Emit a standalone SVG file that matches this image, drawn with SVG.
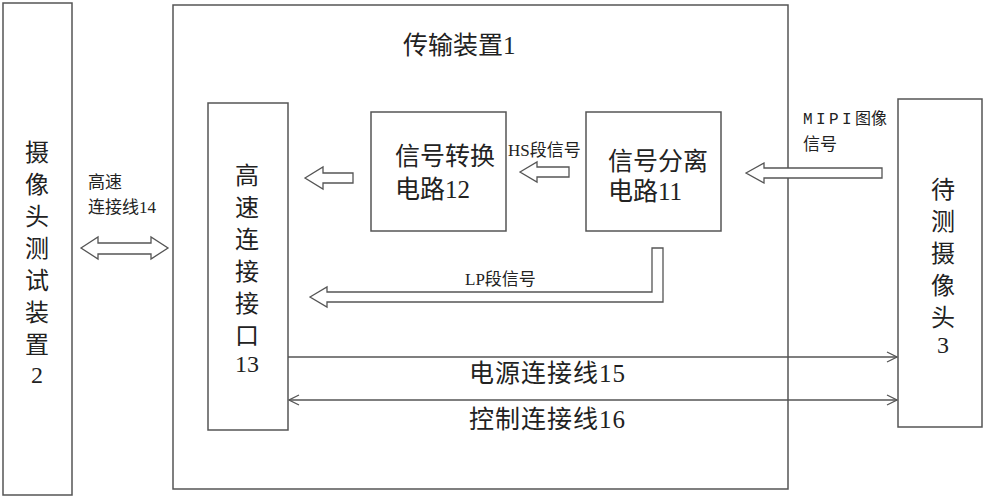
<svg xmlns="http://www.w3.org/2000/svg" width="984" height="500" viewBox="0 0 984 500">
<defs>
<style>
.box{fill:#fff;stroke:#555;stroke-width:1.5}
.blk{fill:#fff;stroke:#555;stroke-width:1.3}
.ln{fill:none;stroke:#555;stroke-width:1.3}
text{font-family:"Liberation Serif","Noto Sans CJK SC",serif;fill:#222}
.v{font-size:24px;text-anchor:middle}
.m{font-size:25px}
.s{font-size:17px}
</style>
<marker id="ah" viewBox="0 0 12 12" refX="11" refY="6" markerWidth="12" markerHeight="12" markerUnits="userSpaceOnUse" orient="auto-start-reverse">
<path d="M1,1 L11,6 L1,11" fill="none" stroke="#555" stroke-width="1.3"/>
</marker>
</defs>
<rect width="984" height="500" fill="#fff"/>

<g id="tester">
<rect class="box" x="3" y="3" width="69" height="492"/>
<text class="v"><tspan x="37" y="161">摄</tspan><tspan x="37" y="193">像</tspan><tspan x="37" y="225">头</tspan><tspan x="37" y="257">测</tspan><tspan x="37" y="289">试</tspan><tspan x="37" y="321">装</tspan><tspan x="37" y="353">置</tspan><tspan x="37" y="383">2</tspan></text>
</g>

<g id="transfer">
<rect class="box" x="173" y="5" width="615" height="484"/>
<text class="m" x="403" y="54">传输装置1</text>
</g>

<g id="interface13">
<rect class="box" x="208" y="103" width="80" height="327"/>
<text class="v"><tspan x="247" y="184">高</tspan><tspan x="247" y="216">速</tspan><tspan x="247" y="248">连</tspan><tspan x="247" y="280">接</tspan><tspan x="247" y="312">接</tspan><tspan x="247" y="344">口</tspan><tspan x="247" y="372">13</tspan></text>
</g>

<g id="convert12">
<rect class="box" x="371" y="112" width="135" height="119"/>
<text class="m"><tspan x="395" y="165">信号转换</tspan><tspan x="395" y="198">电路12</tspan></text>
</g>

<g id="separate11">
<rect class="box" x="586" y="112" width="135" height="119"/>
<text class="m"><tspan x="608" y="170">信号分离</tspan><tspan x="608" y="200">电路11</tspan></text>
</g>

<g id="camera3">
<rect class="box" x="898" y="99" width="84" height="328"/>
<text class="v"><tspan x="943" y="198">待</tspan><tspan x="943" y="230">测</tspan><tspan x="943" y="262">摄</tspan><tspan x="943" y="294">像</tspan><tspan x="943" y="326">头</tspan><tspan x="943" y="353">3</tspan></text>
</g>

<g id="connectors">
<path class="blk" d="M81,248 L98,237 L98,243 L151,243 L151,237 L168,248 L151,259 L151,254 L98,254 L98,259 Z"/>
<path class="blk" d="M305,178 L323,167 L323,173 L353,173 L353,183 L323,183 L323,189 Z"/>
<path class="blk" d="M520,172 L537,162 L537,167 L569,167 L569,177 L537,177 L537,182 Z"/>
<path class="blk" d="M746,173 L764,163 L764,168 L882,168 L882,178 L764,178 L764,183 Z"/>
<path class="blk" d="M310,297 L327,287 L327,292 L652,292 L652,248 L663,248 L663,302 L327,302 L327,307 Z"/>
<line class="ln" x1="288" y1="357" x2="897" y2="357" marker-end="url(#ah)"/>
<line class="ln" x1="289" y1="400" x2="897" y2="400" marker-start="url(#ah)" marker-end="url(#ah)"/>
<text class="s" x="88" y="188">高速</text>
<text class="s" x="88" y="213">连接线14</text>
<text class="s" x="508" y="156">HS段信号</text>
<text class="s" x="465" y="285">LP段信号</text>
<text class="s" x="803" y="124"><tspan font-family="'Liberation Mono','Noto Sans CJK SC',monospace" letter-spacing="3.4" font-size="16">MIPI</tspan><tspan font-size="16">图像</tspan></text>
<text class="s" x="803" y="150" font-size="16">信号</text>
<text class="m" x="469" y="382" font-size="24" letter-spacing="1">电源连接线15</text>
<text class="m" x="469" y="428" font-size="24" letter-spacing="1">控制连接线16</text>
</g>
</svg>
